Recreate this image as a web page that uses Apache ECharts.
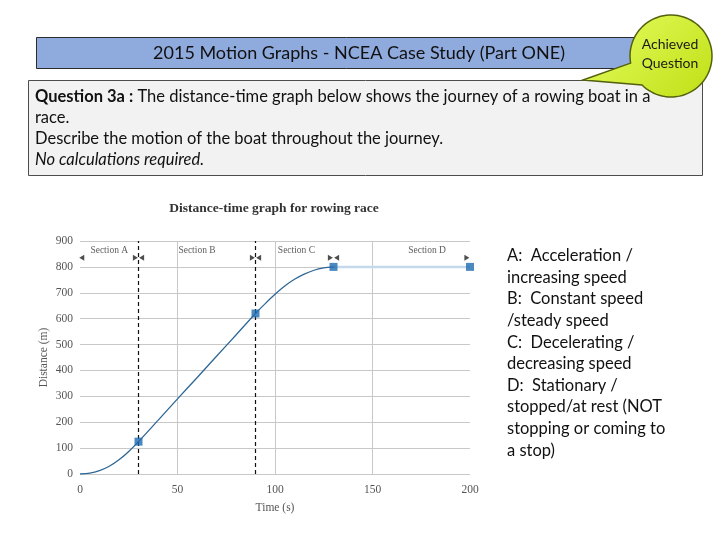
<!DOCTYPE html>
<html>
<head>
<meta charset="utf-8">
<script src="https://cdn.jsdelivr.net/npm/echarts@6/dist/echarts.min.js"></script>
<style>html,body{margin:0;padding:0;background:#fff;}#c{width:720px;height:540px;}</style>
</head>
<body>
<div id="c"></div>
<script>
// ---- data ----
var curveTimes = [0, 5, 10, 15, 20, 25, 30, 40, 50, 60, 70, 80, 90, 95, 100, 105, 110, 115, 120, 125, 130];
var curveDist  = [0, 3, 13, 30, 55, 87, 125, 207, 290, 372, 455, 537, 620, 658, 694, 726, 752, 772, 787, 796, 800];
var restTimes = [130, 200];
var restDist  = [800, 800];
var markerTimes = [30, 90, 130, 200];
var markerDist  = [125, 620, 800, 800];
var boundaryTimes = [30, 90];
var sectionNames = ['Section A', 'Section B', 'Section C', 'Section D'];
var sectionCentres = [15, 60, 111, 178];
var sectionLabelY = 865;
var arrowY = 835;
var arrowRight = [28.4, 88.4, 128.4, 198.4];
var arrowLeft = [0.9, 31.6, 91.6, 131.6];
var headerTitle = '2015 Motion Graphs - NCEA Case Study (Part ONE)';
var bubbleText = ['Achieved', 'Question'];
var questionLines = ['The distance-time graph below shows the journey of a rowing boat in a', 'race.', 'Describe the motion of the boat throughout the journey.', 'No calculations required.'];
var questionLabel = 'Question 3a :';
var answerLines = ['A:  Acceleration /', 'increasing speed', 'B:  Constant speed', '/steady speed', 'C:  Decelerating /', 'decreasing speed', 'D:  Stationary /', 'stopped/at rest (NOT', 'stopping or coming to', 'a stop)'];
var chartTitle = 'Distance-time graph for rowing race';

// ---- build ----
var chart = echarts.init(document.getElementById('c'), null, {renderer: 'canvas'});
var serif = '"Liberation Serif", "DejaVu Serif", serif';
var sans = 'Lato, "Open Sans", sans-serif';

function pairs(a, b) { return a.map(function (v, i) { return [v, b[i]]; }); }

// speech-bubble outline (decoration): tail tip + circular arc
function bubbleOutline(cx, cy, r, tip, a0, a1) {
  var pts = [tip];
  var steps = 80;
  for (var k = 0; k <= steps; k++) {
    var a = (a0 + (a1 - a0) * k / steps) * Math.PI / 180;
    pts.push([cx + r * Math.cos(a), cy + r * Math.sin(a)]);
  }
  return pts;
}

var bubbleFill = new echarts.graphic.LinearGradient(0.2, 0, 0.8, 1, [
  {offset: 0, color: '#e2fb5a'}, {offset: 1, color: '#c4e31e'}
]);

var option = {
  backgroundColor: '#ffffff',
  animation: false,
  title: {
    text: chartTitle, left: 269, top: 197, textAlign: 'center',
    textStyle: {fontFamily: serif, fontWeight: 'bold', fontSize: 13.5, color: '#333'}
  },
  grid: {left: 80, right: 250, top: 241, bottom: 66, containLabel: false},
  xAxis: {
    type: 'value', min: 0, max: 200, interval: 50,
    name: 'Time (s)', nameLocation: 'middle', nameGap: 28,
    nameTextStyle: {fontFamily: serif, fontSize: 11.5, color: '#555'},
    axisLine: {show: false}, axisTick: {show: false},
    axisLabel: {fontFamily: serif, fontSize: 11.5, color: '#555', margin: 10},
    splitLine: {show: true, showMinLine: false, showMaxLine: false, lineStyle: {color: '#c8c8c8', width: 1}}
  },
  yAxis: {
    type: 'value', min: 0, max: 900, interval: 100,
    name: 'Distance (m)', nameLocation: 'middle', nameGap: 30, nameMoveOverlap: false,
    nameTextStyle: {fontFamily: serif, fontSize: 11.5, color: '#555'},
    axisLine: {show: false}, axisTick: {show: false},
    axisLabel: {fontFamily: serif, fontSize: 11.5, color: '#555', margin: 7},
    splitLine: {show: true, lineStyle: {color: '#c8c8c8', width: 1}}
  },
  series: [
    {
      type: 'line', data: pairs(restTimes, restDist), showSymbol: false, symbol: 'none',
      lineStyle: {color: '#c5d9ec', width: 2.5}, z: 2
    },
    {
      type: 'line', data: pairs(curveTimes, curveDist), smooth: 0.3, symbol: 'none',
      lineStyle: {color: '#2e6796', width: 1.3}, z: 3,
      markLine: {
        silent: true, symbol: 'none', label: {show: false},
        lineStyle: {color: '#111', type: [4, 3], width: 1.2},
        data: boundaryTimes.map(function (t) { return {xAxis: t}; })
      }
    },
    {
      type: 'scatter', data: pairs(markerTimes, markerDist), symbol: 'rect', symbolSize: 8,
      itemStyle: {color: '#1f6cb0'}, z: 5
    },
    {
      type: 'scatter', symbol: 'circle', symbolSize: 1, z: 4,
      itemStyle: {color: 'rgba(0,0,0,0)'},
      data: sectionCentres.map(function (t, i) { return {value: [t, sectionLabelY], name: sectionNames[i]}; }),
      label: {show: true, position: 'inside', formatter: '{b}', fontFamily: serif, fontSize: 9.5, color: '#333'}
    },
    {
      type: 'scatter', symbol: 'triangle', symbolSize: [6, 5], symbolRotate: -90,
      itemStyle: {color: '#222'}, z: 4,
      data: arrowRight.map(function (t) { return [t, arrowY]; })
    },
    {
      type: 'scatter', symbol: 'triangle', symbolSize: [6, 5], symbolRotate: 90,
      itemStyle: {color: '#222'}, z: 4,
      data: arrowLeft.map(function (t) { return [t, arrowY]; })
    }
  ],
  graphic: [
    {type: 'rect', shape: {x: 36.5, y: 37.5, width: 620, height: 31}, z: 10,
     style: {fill: '#8faadc', stroke: '#2b2b2b', lineWidth: 1}},
    {type: 'text', x: 359, y: 53, z: 11,
     style: {text: headerTitle, fontFamily: sans, fontSize: 18, fill: '#111', align: 'center', verticalAlign: 'middle'}},
    {type: 'rect', shape: {x: 28.5, y: 80.5, width: 674, height: 95}, z: 10,
     style: {fill: '#f2f2f2', stroke: '#4d4d4d', lineWidth: 1}},
    {type: 'text', x: 35, y: 86, z: 11,
     style: {
       text: '{b|' + questionLabel + '} ' + questionLines[0] + '\n' + questionLines[1] + '\n' + questionLines[2] + '\n{i|' + questionLines[3] + '}',
       fontFamily: sans, fontSize: 16.5, fill: '#111', lineHeight: 21,
       rich: {
         b: {fontFamily: sans, fontSize: 16.5, fontWeight: 'bold', fill: '#111', lineHeight: 21},
         i: {fontFamily: sans, fontSize: 16.5, fontStyle: 'italic', fill: '#111', lineHeight: 21}
       }
     }},
    {type: 'polygon', z: 13,
     shape: {points: bubbleOutline(671, 56, 41, [583, 80], 170, 495)},
     style: {fill: bubbleFill, stroke: '#55600e', lineWidth: 1.5}},
    {type: 'text', x: 670, y: 54, z: 15,
     style: {text: bubbleText.join('\n'), fontFamily: sans, fontSize: 14, fill: '#1a1a1a', align: 'center', verticalAlign: 'middle', lineHeight: 19}},
    {type: 'text', x: 507, y: 245, z: 11,
     style: {text: answerLines.join('\n'), fontFamily: sans, fontSize: 16.5, fill: '#111', lineHeight: 21.6}}
  ]
};
chart.setOption(option);
</script>
</body>
</html>
